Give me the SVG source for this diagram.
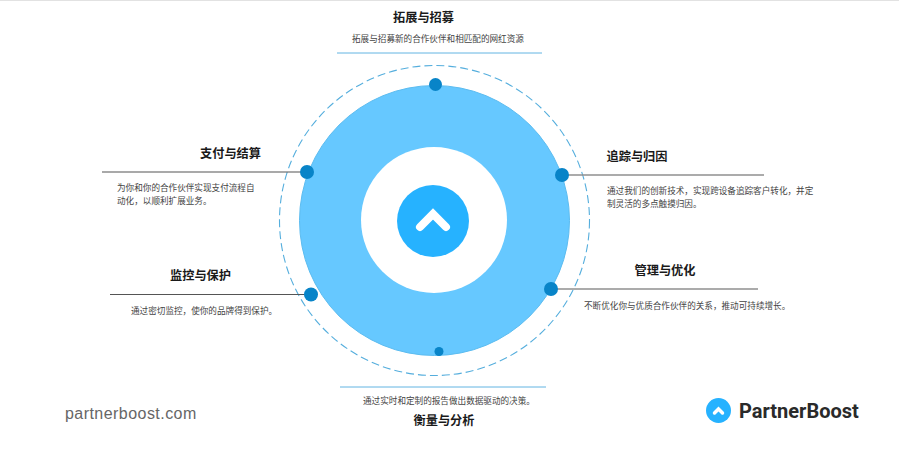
<svg xmlns="http://www.w3.org/2000/svg" width="899" height="455" viewBox="0 0 899 455">
<style>
text{font-family:"Noto Sans CJK SC","Noto Sans",sans-serif}
.t{font-size:12.2px;font-weight:700;fill:#1a1a1a}
.d{font-size:8.6px;fill:#444}
.g{stroke:#8f8f8f;stroke-width:1.4;fill:none}
.k{stroke:#555;stroke-width:1.1;fill:none}
.b{stroke:#62b4e2;stroke-width:1;fill:none}
.dot{fill:#0884c8}
</style>
<rect width="899" height="455" fill="#fff"/>
<rect width="899" height="1" fill="#e2e2e2"/>
<g id="hub">
<circle cx="434.500" cy="220.500" r="155" fill="none" stroke="#55aedd" stroke-width="1.100" stroke-dasharray="8 4"/>
<circle cx="434.500" cy="220.500" r="135" fill="#66c8ff" stroke="#5cbcf0" stroke-width="1"/>
<circle cx="434" cy="220" r="73" fill="#fff"/>
<circle cx="433" cy="221" r="36" fill="#26b2ff"/>
<path d="M420 227 L433 214 L446 227" fill="none" stroke="#fff" stroke-width="8" stroke-linecap="round" stroke-linejoin="miter"/>
</g>
<g id="connectors">
<line class="b" x1="337" y1="53" x2="542" y2="53"/>
<line class="k" x1="102" y1="172" x2="307" y2="172"/>
<line class="k" x1="110" y1="294.500" x2="311" y2="294.500"/>
<line class="g" x1="562" y1="175" x2="764" y2="175"/>
<line class="g" x1="551" y1="289" x2="758" y2="289"/>
<line class="b" x1="340" y1="387" x2="546" y2="387"/>
</g>
<g id="node-top">
<circle class="dot" cx="435.500" cy="84.500" r="6.500"/>
<text class="t" x="423.500" y="22" text-anchor="middle">拓展与招募</text>
<text class="d" x="352" y="41.500">拓展与招募新的合作伙伴和相匹配的网红资源</text>
</g>
<g id="node-payment">
<circle class="dot" cx="307" cy="172" r="7"/>
<text class="t" x="230.500" y="158" text-anchor="middle">支付与结算</text>
<text class="d" x="117" y="191">为你和你的合作伙伴实现支付流程自</text>
<text class="d" x="117" y="204">动化，以顺利扩展业务。</text>
</g>
<g id="node-monitor">
<circle class="dot" cx="311" cy="294.500" r="7"/>
<text class="t" x="200.500" y="280" text-anchor="middle">监控与保护</text>
<text class="d" x="131" y="314">通过密切监控，使你的品牌得到保护。</text>
</g>
<g id="node-tracking">
<circle class="dot" cx="562" cy="175" r="7"/>
<text class="t" x="637" y="161" text-anchor="middle">追踪与归因</text>
<text class="d" x="607" y="194">通过我们的创新技术，实现跨设备追踪客户转化，并定</text>
<text class="d" x="607" y="207">制灵活的多点触摸归因。</text>
</g>
<g id="node-manage">
<circle class="dot" cx="551" cy="289" r="7"/>
<text class="t" x="665" y="275" text-anchor="middle">管理与优化</text>
<text class="d" x="584" y="309">不断优化你与优质合作伙伴的关系，推动可持续增长。</text>
</g>
<g id="node-bottom">
<circle class="dot" cx="439" cy="351.500" r="4.500"/>
<text class="t" x="444" y="425" text-anchor="middle">衡量与分析</text>
<text class="d" x="363" y="404">通过实时和定制的报告做出数据驱动的决策。</text>
</g>
<g id="footer-url">
<text x="65" y="419" style="font-family:'Liberation Sans',sans-serif;font-size:16px;letter-spacing:0.45px;fill:#666">partnerboost.com</text>
</g>
<g id="footer-logo">
<circle cx="718.500" cy="410.500" r="12.500" fill="#26b2ff"/>
<path d="M714.500 413 L718.500 409 L722.500 413" fill="none" stroke="#fff" stroke-width="3.500" stroke-linecap="round" stroke-linejoin="miter"/>
<text x="739" y="418" style="font-family:'Roboto',sans-serif;font-size:20px;font-weight:700;fill:#2a2a2a">PartnerBoost</text>
</g>
</svg>
